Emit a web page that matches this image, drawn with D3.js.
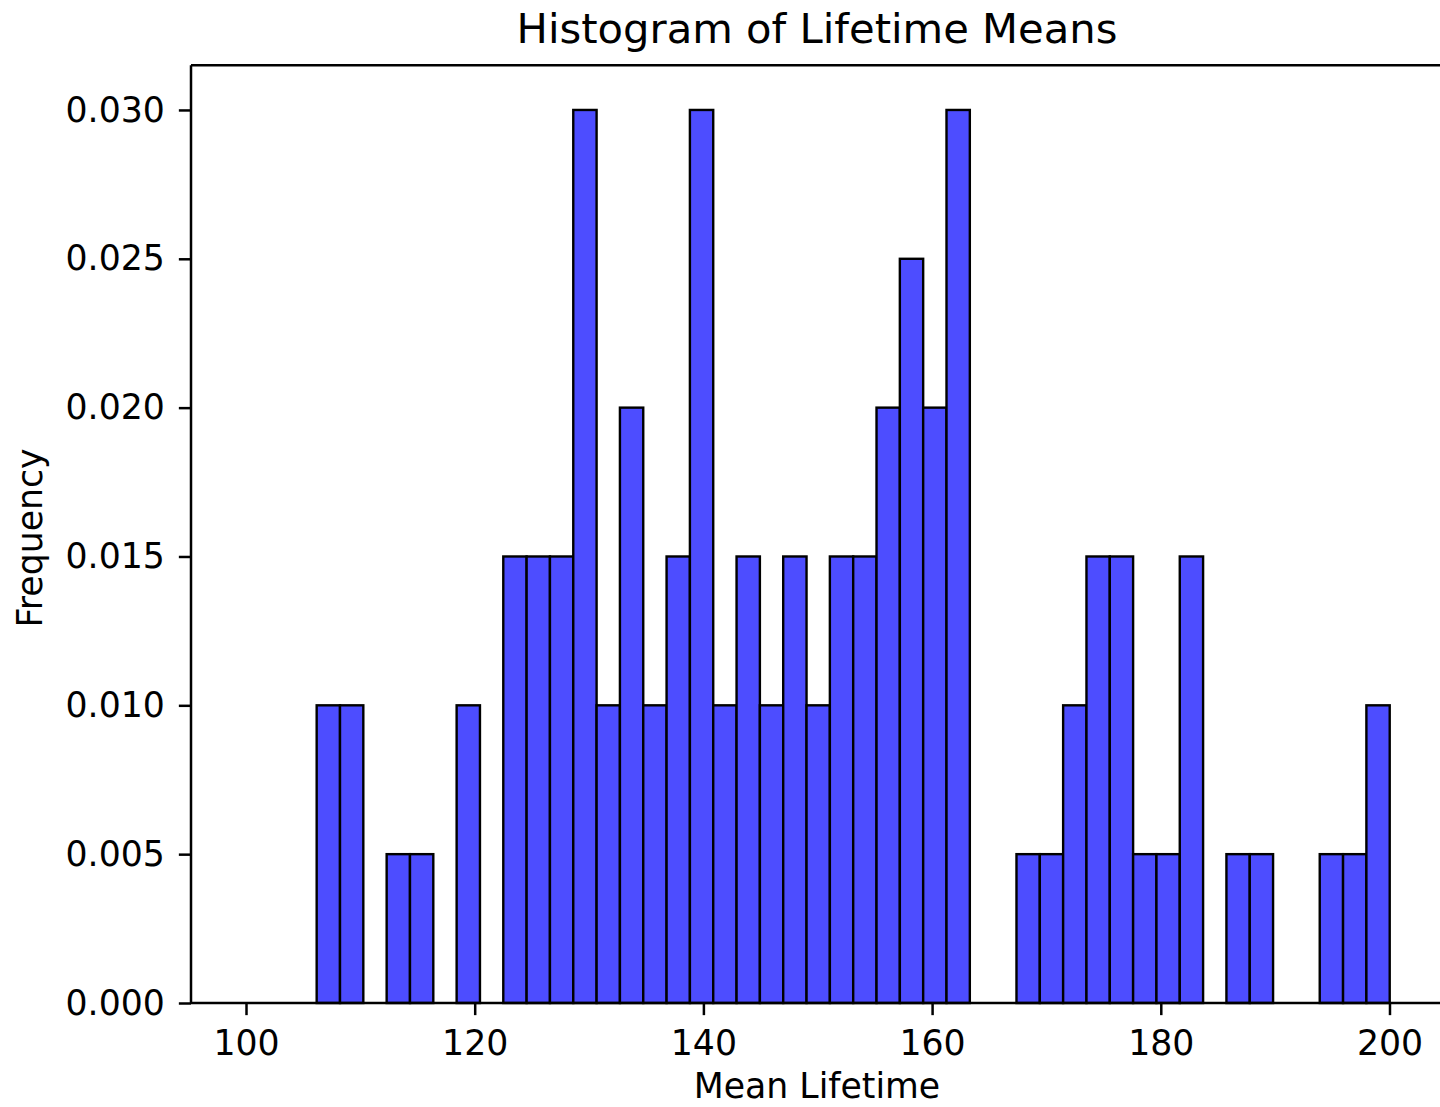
<!DOCTYPE html>
<html>
<head>
<meta charset="utf-8">
<script src="https://cdn.jsdelivr.net/npm/d3@7"></script>
<style>
  html, body { margin: 0; padding: 0; background: #fff; }
  svg { display: block; font-family: "DejaVu Sans", sans-serif; }
</style>
</head>
<body>
<svg id="chart" width="1440" height="1107"></svg>
<script>
// Histogram bins: lower edge of the first bin, common bin width
const binStart = 100.06;
const binWidth = 2.04;
// Density per bin (49 bins)
const frequencies = [
  0, 0, 0, 0.010, 0.010, 0, 0.005, 0.005, 0, 0.010,
  0, 0.015, 0.015, 0.015, 0.030, 0.010, 0.020, 0.010, 0.015, 0.030,
  0.010, 0.015, 0.010, 0.015, 0.010, 0.015, 0.015, 0.020, 0.025, 0.020,
  0.030, 0, 0, 0.005, 0.005, 0.010, 0.015, 0.015, 0.005, 0.005,
  0.015, 0, 0.005, 0.005, 0, 0, 0.005, 0.005, 0.010
];
const xTicks = [100, 120, 140, 160, 180, 200];
const yTicks = [0, 0.005, 0.010, 0.015, 0.020, 0.025, 0.030];
const titleText = "Histogram of Lifetime Means";
const xLabel = "Mean Lifetime";
const yLabel = "Frequency";

const bins = frequencies.map((f, i) => ({
  x0: binStart + i * binWidth,
  x1: binStart + (i + 1) * binWidth,
  f
}));

const svg = d3.select("#chart");
const plot = { left: 191, right: 1443, top: 65.3, bottom: 1003 };

const x = d3.scaleLinear().domain([95.19, 204.68]).range([plot.left, plot.right]);
const y = d3.scaleLinear().domain([0, 0.0315]).range([plot.bottom, plot.top]);

const tickLen = 12.15, fontSize = 34.7;

// Bars
svg.append("g")
  .selectAll("rect")
  .data(bins.filter(b => b.f > 0))
  .join("rect")
  .attr("x", d => x(d.x0))
  .attr("y", d => y(d.f))
  .attr("width", d => x(d.x1) - x(d.x0))
  .attr("height", d => y(0) - y(d.f))
  .attr("fill", "#4d4dff")
  .attr("stroke", "#000")
  .attr("stroke-width", 2.4);

// Spines
const spines = svg.append("g").attr("stroke", "#000").attr("stroke-width", 2.5).attr("fill", "none");
spines.append("line").attr("x1", plot.left).attr("x2", plot.left).attr("y1", plot.top).attr("y2", plot.bottom);
spines.append("line").attr("x1", plot.left).attr("x2", plot.right).attr("y1", plot.top).attr("y2", plot.top);
spines.append("line").attr("x1", plot.left).attr("x2", plot.right).attr("y1", plot.bottom).attr("y2", plot.bottom);
spines.append("line").attr("x1", plot.right).attr("x2", plot.right).attr("y1", plot.top).attr("y2", plot.bottom);

// X axis
const xAxis = d3.axisBottom(x).tickValues(xTicks).tickFormat(d3.format("d"))
  .tickSize(tickLen).tickPadding(15);
const gx = svg.append("g").attr("transform", `translate(0,${plot.bottom})`).call(xAxis);
gx.select(".domain").remove();
gx.selectAll(".tick line").attr("stroke", "#000").attr("stroke-width", 2.5);
gx.selectAll(".tick text").attr("font-size", fontSize).attr("fill", "#000")
  .attr("font-family", "DejaVu Sans");

// Y axis
const yAxis = d3.axisLeft(y).tickValues(yTicks).tickFormat(d3.format(".3f"))
  .tickSize(tickLen).tickPadding(14);
const gy = svg.append("g").attr("transform", `translate(${plot.left},0)`).call(yAxis);
gy.select(".domain").remove();
gy.selectAll(".tick line").attr("stroke", "#000").attr("stroke-width", 2.5);
gy.selectAll(".tick text").attr("font-size", fontSize).attr("fill", "#000")
  .attr("font-family", "DejaVu Sans");

// Title and axis labels
svg.append("text")
  .attr("x", (plot.left + plot.right) / 2).attr("y", 43)
  .attr("text-anchor", "middle").attr("font-size", 41.7).attr("fill", "#000")
  .text(titleText);

svg.append("text")
  .attr("x", (plot.left + plot.right) / 2).attr("y", 1098)
  .attr("text-anchor", "middle").attr("font-size", fontSize).attr("fill", "#000")
  .text(xLabel);

svg.append("text")
  .attr("transform", `translate(42,538) rotate(-90)`)
  .attr("text-anchor", "middle").attr("font-size", fontSize).attr("fill", "#000")
  .text(yLabel);
</script>
</body>
</html>
